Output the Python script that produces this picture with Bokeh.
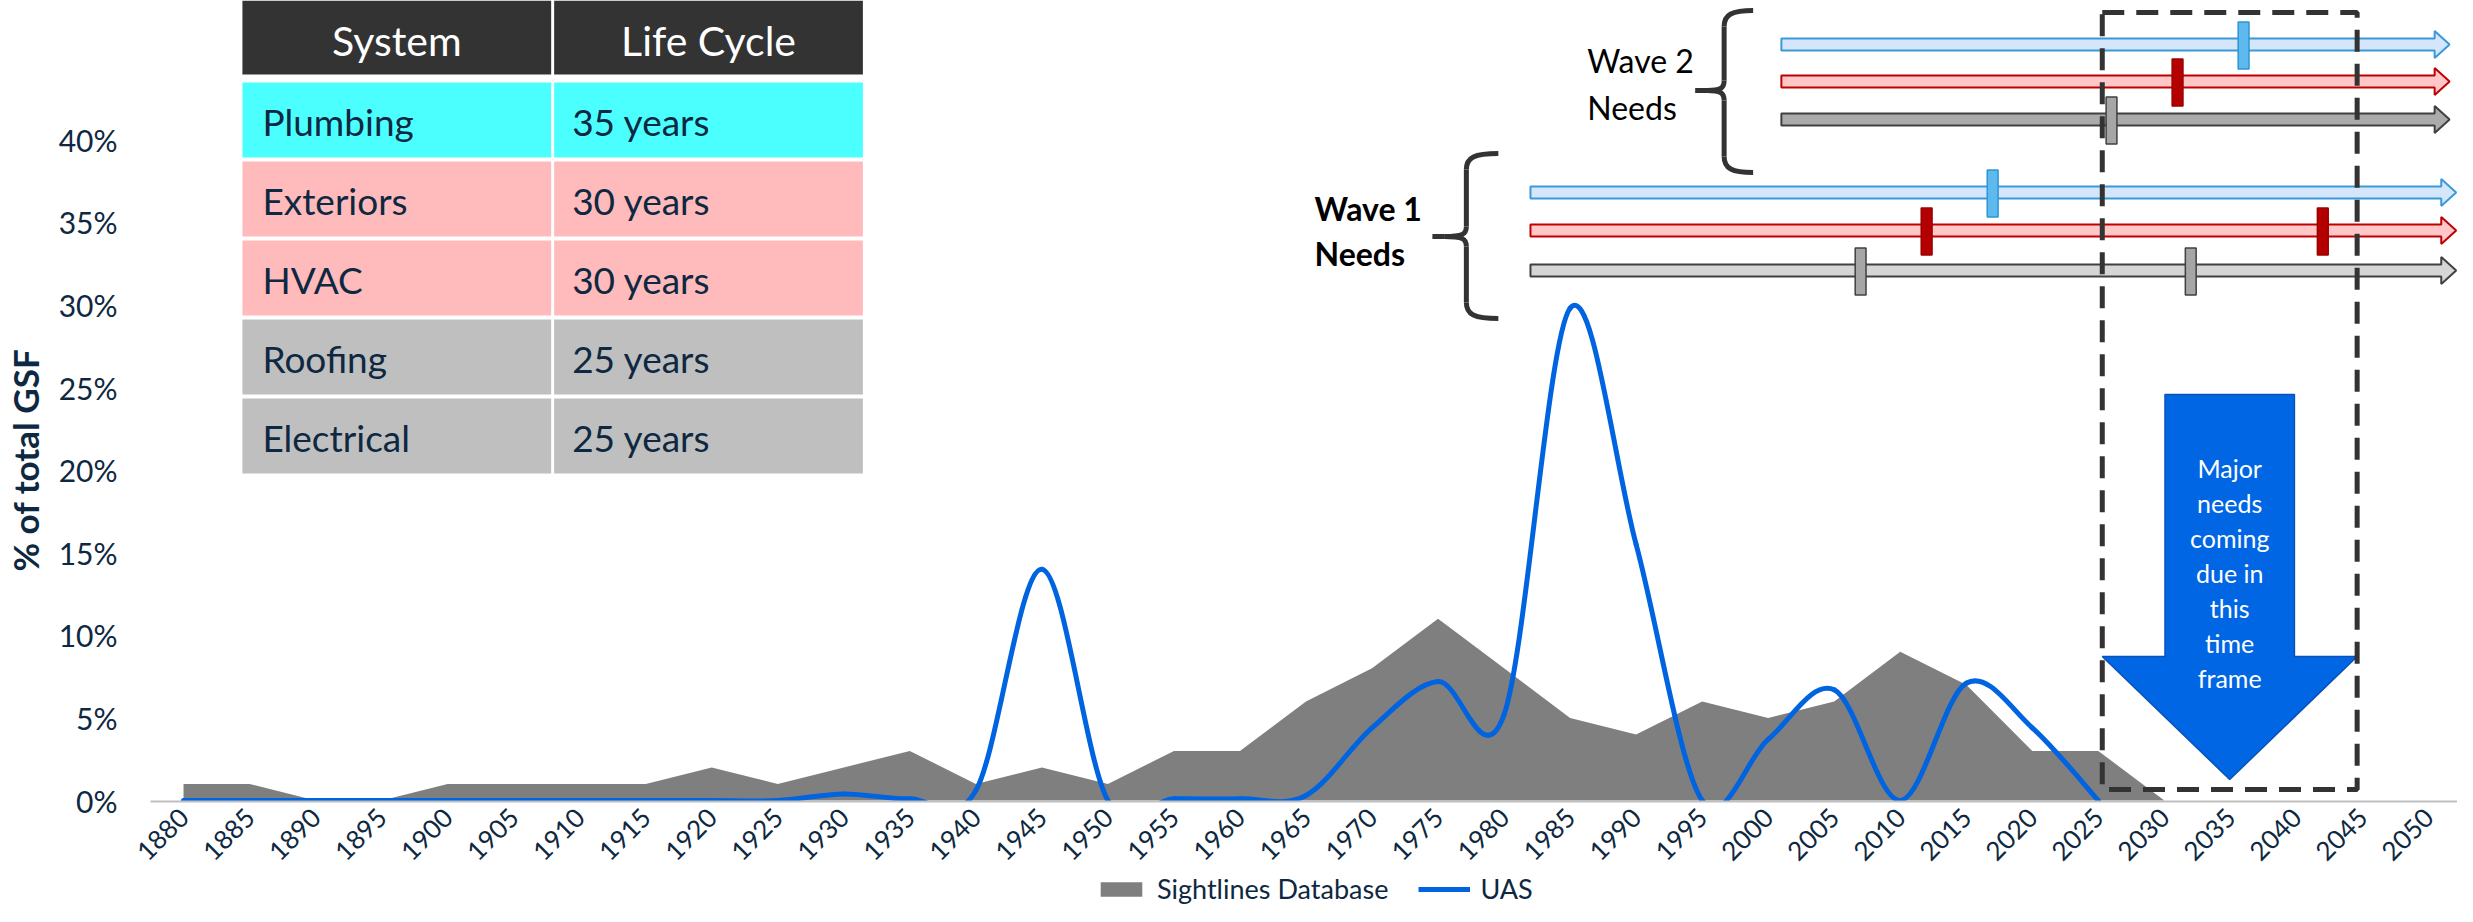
import math
import numpy as np
from bokeh.plotting import figure
from bokeh.layouts import column
from bokeh.models import Range1d, FixedTicker, NumeralTickFormatter, Legend, LegendItem
from bokeh.core.properties import value
from bokeh.embed import file_html
from bokeh.resources import INLINE

# ---------------- data ----------------
YEARS = [1880, 1885, 1890, 1895, 1900, 1905, 1910, 1915, 1920, 1925, 1930, 1935,
         1940, 1945, 1950, 1955, 1960, 1965, 1970, 1975, 1980, 1985, 1990, 1995,
         2000, 2005, 2010, 2015, 2020, 2025, 2030, 2035, 2040, 2045, 2050]
SIGHTLINES_YEARS = [1880, 1885, 1890, 1895, 1900, 1905, 1910, 1915, 1920, 1925,
                    1930, 1935, 1940, 1945, 1950, 1955, 1960, 1965, 1970, 1975,
                    1980, 1985, 1990, 1995, 2000, 2005, 2010, 2015, 2020, 2025, 2030]
SIGHTLINES = [1, 1, 0, 0, 1, 1, 1, 1, 2, 1,
              2, 3, 1, 2, 1, 3, 3, 6, 8, 11,
              8, 5, 4, 6, 5, 6, 9, 7, 3, 3, 0]
UAS_YEARS = [1880, 1885, 1890, 1895, 1900, 1905, 1910, 1915, 1920, 1925,
             1930, 1935, 1940, 1945, 1950, 1955, 1960, 1965, 1970, 1975,
             1980, 1985, 1990, 1995, 2000, 2005, 2010, 2015, 2020, 2025]
UAS = [0, 0, 0, 0, 0, 0, 0, 0, 0, 0,
       0.4, 0.1, 0.6, 14.0, 0, 0.1, 0.1, 0.3, 4.4, 7.2,
       5.2, 29.8, 15.5, 0, 3.7, 6.7, 0, 7.1, 4.4, 0]
Y_TICKS = [0, 0.05, 0.10, 0.15, 0.20, 0.25, 0.30, 0.35, 0.40]

SYSTEMS = ["Plumbing", "Exteriors", "HVAC", "Roofing", "Electrical"]
LIFE_CYCLE = [35, 30, 30, 25, 25]
TABLE_HEADER = ["System", "Life Cycle"]
ROW_COLORS = ["#4BFFFF", "#FFBBBB", "#FFBBBB", "#BFBFBF", "#BFBFBF"]

WAVE_NAMES = ["Wave 1", "Wave 2"]
WAVE_BASE = [1982, 2001]
WAVE_END = [2052.1, 2051.6]
WAVE_LIVES = [35, 30, 25]
TIME_FRAME = [2025.3, 2044.6]
ARROW_TEXT = ["Major", "needs", "coming", "due in", "this", "time", "frame"]
LEGEND_LABELS = ["Sightlines Database", "UAS"]

NAVY = "#0E2841"
GRAY_AREA = "#7F7F7F"
BLUE_LINE = "#0064E1"
FONT = "Lato"

# ---------------- main figure ----------------
W = 2457
H_LEG = 34
H = 906 - H_LEG
ML, MR, MT = 148, 0, 0
PXU = 1652                      # pixels per 100 %
Y0 = 800                        # pixel row of 0 %
FH = Y0 + 1
MB = H - FH
FW = W - ML - MR

p = figure(width=W, height=H, output_backend="svg", toolbar_location=None, title=None,
           x_range=Range1d(1877.5, 2052.2), y_range=Range1d(-1 / PXU, Y0 / PXU),
           min_border_left=ML, min_border_right=MR, min_border_top=MT, min_border_bottom=MB)
p.extra_x_ranges = {"px": Range1d(0, FW)}
p.extra_y_ranges = {"px": Range1d(FH, 0)}
p.outline_line_color = None
p.xgrid.visible = False
p.ygrid.visible = False
p.background_fill_color = "white"

p.xaxis.ticker = FixedTicker(ticks=YEARS)
p.xaxis.major_label_orientation = math.pi / 4
p.xaxis.major_tick_line_color = None
p.xaxis.minor_tick_line_color = None
p.xaxis.axis_line_color = "#BFBFBF"
p.xaxis.axis_line_width = 2
p.xaxis.major_label_text_font = FONT
p.xaxis.major_label_text_font_size = "26px"
p.xaxis.major_label_text_color = NAVY
p.xaxis.major_label_standoff = 5

p.yaxis.ticker = FixedTicker(ticks=Y_TICKS)
p.yaxis.formatter = NumeralTickFormatter(format="0%")
p.yaxis.major_tick_line_color = None
p.yaxis.minor_tick_line_color = None
p.yaxis.axis_line_color = None
p.yaxis.major_label_text_font = FONT
p.yaxis.major_label_text_font_size = "30px"
p.yaxis.major_label_text_color = NAVY
p.yaxis.major_label_standoff = 27
p.yaxis.axis_label = "% of total GSF" + "\u00a0" * 14
p.yaxis.axis_label_text_font = FONT
p.yaxis.axis_label_text_font_style = "bold"
p.yaxis.axis_label_text_font_size = "35px"
p.yaxis.axis_label_text_color = NAVY
p.yaxis.axis_label_standoff = 10

# ---------------- series ----------------
s_y = [v / 100 for v in SIGHTLINES]
p.varea(x=SIGHTLINES_YEARS, y1=[0] * len(s_y), y2=s_y, fill_color=GRAY_AREA)

ux = np.array(UAS_YEARS, dtype=float)
uy = np.array(UAS, dtype=float) / 100
n = len(ux)
i = np.arange(n - 1)
i0 = np.maximum(i - 1, 0)
i3 = np.minimum(i + 2, n - 1)
cx0 = ux[i] + (ux[i + 1] - ux[i0]) / 6
cy0 = uy[i] + (uy[i + 1] - uy[i0]) / 6
cx1 = ux[i + 1] - (ux[i3] - ux[i]) / 6
cy1 = uy[i + 1] - (uy[i3] - uy[i]) / 6
p.bezier(x0=ux[:-1], y0=uy[:-1], x1=ux[1:], y1=uy[1:], cx0=cx0, cy0=cy0,
         cx1=cx1, cy1=cy1, line_color=BLUE_LINE, line_width=5, line_cap="round")

# ---------------- table (pixel space) ----------------
PX = dict(x_range_name="px", y_range_name="px")
T_L, T_SPLIT, T_C2, T_R = 92, 401, 404, 713
HDR_T, HDR_B = 0, 74
ROW_T0, ROW_PITCH, ROW_H = 82, 79, 75

p.quad(left=[T_L, T_C2], right=[T_SPLIT, T_R], top=[HDR_T, HDR_T], bottom=[HDR_B, HDR_B],
       fill_color="#333333", line_color=None, **PX)
row_tops = [ROW_T0 + k * ROW_PITCH for k in range(len(SYSTEMS))]
row_bots = [t + ROW_H for t in row_tops]
p.quad(left=[T_L] * len(SYSTEMS), right=[T_SPLIT] * len(SYSTEMS), top=row_tops, bottom=row_bots,
       fill_color=ROW_COLORS, line_color=None, **PX)
p.quad(left=[T_C2] * len(SYSTEMS), right=[T_R] * len(SYSTEMS), top=row_tops, bottom=row_bots,
       fill_color=ROW_COLORS, line_color=None, **PX)
p.text(x=[(T_L + T_SPLIT) / 2, (T_C2 + T_R) / 2], y=[40, 40], text=TABLE_HEADER,
       text_font=value(FONT), text_font_size="41px", text_color="white",
       text_align="center", text_baseline="middle", **PX)
row_mid = [(t + b) / 2 + 1 for t, b in zip(row_tops, row_bots)]
p.text(x=[T_L + 20] * len(SYSTEMS), y=row_mid, text=SYSTEMS,
       text_font=value(FONT), text_font_size="37px", text_color=NAVY,
       text_align="left", text_baseline="middle", **PX)
p.text(x=[T_C2 + 18] * len(SYSTEMS), y=row_mid, text=[f"{v} years" for v in LIFE_CYCLE],
       text_font=value(FONT), text_font_size="37px", text_color=NAVY,
       text_align="left", text_baseline="middle", **PX)

# ---------------- wave arrows ----------------
BAR_FILL = ["#D5E6FA", "#FFC7C7", None]
BAR_LINE = ["#3A9AD9", "#C00000", "#404040"]
GRAY_FILL = ["#D6D6D6", "#ABABAB"]
MARK_FILL = ["#5DB9EE", "#B40000", "#A6A6A6"]
MARK_LINE = ["#2D95D2", "#9A0000", "#404040"]
BAR_Y = [[192, 230, 270], [44, 81, 119]]
HEAD_LEN = 1.13
for w, base in enumerate(WAVE_BASE):
    tip = WAVE_END[w]
    xb = tip - HEAD_LEN
    xs, ys, fills, lines = [], [], [], []
    for k, life in enumerate(WAVE_LIVES):
        c = BAR_Y[w][k]
        xs.append([base, xb, xb, tip, xb, xb, base])
        ys.append([c - 6, c - 6, c - 13.5, c, c + 13.5, c + 6, c + 6])
        fills.append(BAR_FILL[k] if BAR_FILL[k] else GRAY_FILL[w])
        lines.append(BAR_LINE[k])
    p.patches(xs=xs, ys=ys, fill_color=fills, line_color=lines, line_width=2, y_range_name="px")
    mx, my, mf, ml = [], [], [], []
    for k, life in enumerate(WAVE_LIVES):
        m = 1
        while base + m * life < 2050:
            mx.append(base + m * life)
            my.append(BAR_Y[w][k] + 1)
            mf.append(MARK_FILL[k])
            ml.append(MARK_LINE[k])
            m += 1
    p.rect(x=mx, y=my, width=0.82, height=47, fill_color=mf, line_color=ml, line_width=1.5,
           y_range_name="px")

# braces
def brace(xv, xr, xt, yt, ym, yb):
    segs = [
        (xr, yt, xv, yt + 16, xv + 8, yt, xv, yt + 4),
        (xv, ym - 10, xt + 12, ym, xv, ym - 2, xv - 4, ym),
        (xt + 12, ym, xv, ym + 10, xv - 4, ym, xv, ym + 2),
        (xv, yb - 16, xr, yb, xv, yb - 4, xv + 8, yb),
    ]
    p.bezier(x0=[s[0] for s in segs], y0=[s[1] for s in segs], x1=[s[2] for s in segs],
             y1=[s[3] for s in segs], cx0=[s[4] for s in segs], cy0=[s[5] for s in segs],
             cx1=[s[6] for s in segs], cy1=[s[7] for s in segs],
             line_color="#333333", line_width=5, **PX)
    p.multi_line(xs=[[xv, xv], [xv, xv], [xt + 12, xt]], ys=[[yt + 16, ym - 10], [ym + 10, yb - 16], [ym, ym]],
                 line_color="#333333", line_width=5, **PX)

brace(1317, 1349, 1283, 153, 236, 318)
brace(1575, 1604, 1546, 10, 90, 172)

p.text(x=[1165, 1165], y=[208, 253], text=[WAVE_NAMES[0], "Needs"], text_font=value(FONT),
       text_font_style="bold", text_font_size="32px", text_color="black",
       text_align="left", text_baseline="middle", **PX)
p.text(x=[1438, 1438], y=[60, 107], text=[WAVE_NAMES[1], "Needs"], text_font=value(FONT),
       text_font_size="32px", text_color="black",
       text_align="left", text_baseline="middle", **PX)

# big arrow
tf_l, tf_r = TIME_FRAME
tip_x = (tf_l + tf_r) / 2
body_half = 4.9
p.patch(x=[tip_x - body_half, tip_x + body_half, tip_x + body_half, tf_r, tip_x, tf_l, tip_x - body_half],
        y=[394, 394, 656, 656, 779, 656, 656], fill_color="#0066E3", line_color="#0A52B8",
        line_width=1.5, y_range_name="px")
p.text(x=[tip_x] * len(ARROW_TEXT), y=[467 + 35 * k for k in range(len(ARROW_TEXT))], text=ARROW_TEXT,
       text_font=value(FONT), text_font_size="25px", text_color="white",
       text_align="center", text_baseline="middle", y_range_name="px")

# dashed time-frame box
p.quad(left=[tf_l], right=[tf_r], top=[12], bottom=[789], fill_alpha=0, line_color="#333333",
       line_width=5, line_dash="22 12", y_range_name="px")

# ---------------- legend strip ----------------
lg = figure(width=W, height=H_LEG, output_backend="svg", toolbar_location=None, title=None,
            x_range=Range1d(0, 1), y_range=Range1d(0, 1),
            min_border_left=0, min_border_right=0, min_border_top=0, min_border_bottom=0)
lg.axis.visible = False
lg.grid.visible = False
lg.outline_line_color = None
# the legend swatches reuse the series (they fall outside this strip's ranges)
r_area = lg.varea(x=SIGHTLINES_YEARS, y1=[0] * len(s_y), y2=s_y, fill_color=GRAY_AREA)
r_line = lg.line(x=UAS_YEARS, y=uy, line_color=BLUE_LINE, line_width=5)
legend = Legend(items=[LegendItem(label=LEGEND_LABELS[0], renderers=[r_area]),
                       LegendItem(label=LEGEND_LABELS[1], renderers=[r_line])],
                location=(945, 1), orientation="horizontal",
                background_fill_alpha=0, border_line_alpha=0,
                label_text_font=FONT, label_text_font_size="27px", label_text_color=NAVY,
                glyph_width=52, glyph_height=18, label_standoff=10, spacing=30,
                padding=0, margin=0)
lg.add_layout(legend)

layout = column(p, lg, spacing=0)
open("out.html", "w").write(file_html(layout, INLINE))
